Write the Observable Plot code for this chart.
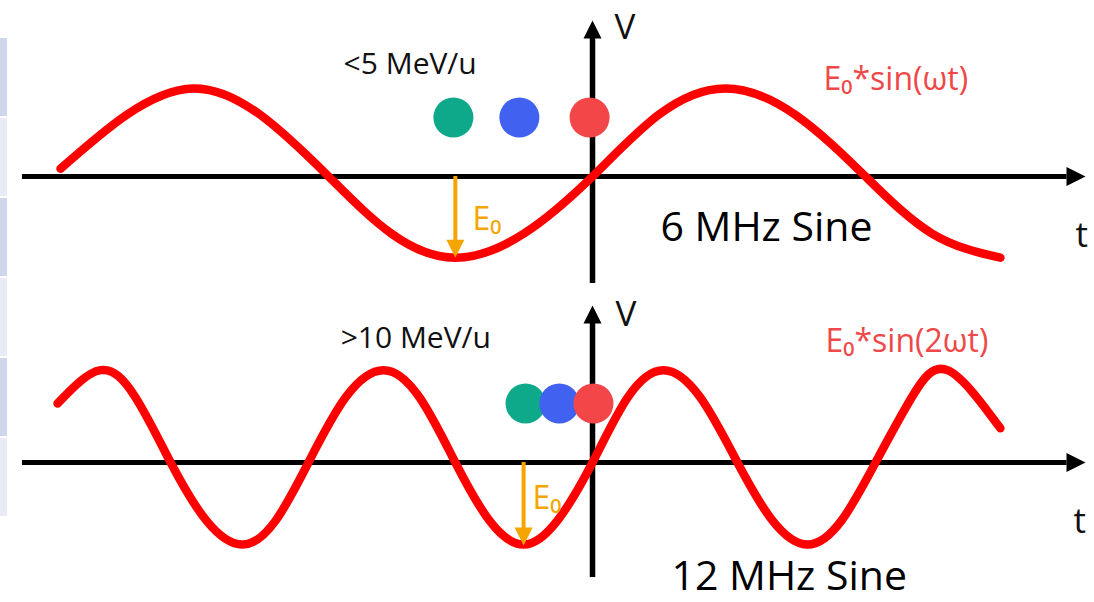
<!DOCTYPE html>
<html><head><meta charset="utf-8">
<script src="https://cdn.jsdelivr.net/npm/d3@7"></script>
<script src="https://cdn.jsdelivr.net/npm/@observablehq/plot@0.6"></script>
<style>
html,body{margin:0;padding:0;background:#fff;}
#chart{position:relative;width:1094px;height:602px;overflow:hidden;}
#chart svg{position:absolute;left:0;}
</style></head><body><div id="chart"></div>
<script>
// time t in ns (t = 0 at the vertical axis), voltage V in units of E0
const topWaveT = [-163.7,-143.4,-122.8,-102.2,-81.2,-61.8,-42.2,-21.2,0,20.3,40.9,62.5,84.0,104.6,125.5];
const topWaveV = [0.09,0.72,1.03,0.72,0,-0.67,-0.95,-0.67,0,0.72,1.03,0.72,0,-0.67,-0.95];
const bottomWaveT = [-164.6,-151.4,-140.6,-129.8,-118.8,-107.7,-97.5,-87.4,-76.0,-64.3,-53.2,-42.2,-31.7,-21.2,-10.8,0,10.8,21.8,33.2,44.6,55.4,66.2,76.6,87.1,98.2,109.2,125.5];
const bottomWaveV = [0.69,1.08,0.76,0,-0.68,-0.96,-0.68,0,0.76,1.08,0.76,0,-0.68,-0.96,-0.68,0,0.76,1.08,0.76,0,-0.68,-0.96,-0.68,0,0.76,1.08,0.40];

const particleNames = ["green","blue","red"];
const particleColors = ["#0ea98a","#4161f1","#f34648"];
const topParticleT = [-42.8,-22.5,-0.9];
const bottomParticleT = [-20.6,-10.2,0.3];
const particleV = 0.69;

const tAxisExtent = [-175.4, 146];
const tArrowTip = 151.7;
const topVAxisExtent = [-1.25, 1.75];
const topVArrowTip = 1.825;
const bottomVAxisExtent = [-1.345, 1.75];
const bottomVArrowTip = 1.836;

const topE0Arrow = {t: -42.2, tip: -0.95};
const bottomE0Arrow = {t: -21.2, tip: -0.97};

const topLabels = {energy: "<5 MeV/u", formula: "E₀*sin(ωt)", freq: "6 MHz Sine", e0: "E₀", vName: "V", tName: "t"};
const bottomLabels = {energy: ">10 MeV/u", formula: "E₀*sin(2ωt)", freq: "12 MHz Sine", e0: "E₀", vName: "V", tName: "t"};
const topLabelAt = {energy: [-76.6,1.20], formula: [71.1,1.01], freq: [20.9,-0.75], e0: [-36.9,-0.63], vName: [6.8,1.61], tName: [148.6,-0.83]};
const bottomLabelAt = {energy: [-77.5,1.345], formula: [71.7,1.29], freq: [24.3,-1.497], e0: [-18.5,-0.54], vName: [7.1,1.60], tName: [148,-0.82]};

const stripeRows = ["r1","r2","r3","r4","r5","r6"];
const stripeColors = ["#cfd5ea","#e8ebf5","#cfd5ea","#e8ebf5","#cfd5ea","#e8ebf5"];

// ---- drawing ----
const W = 1094;
const tDomain = [-592/3.25, (W-592)/3.25];
function tri(dir){
  return {draw(ctx, size){
    const r = Math.sqrt(size/Math.PI);
    ctx.moveTo(0,0);
    if (dir==="right"){ctx.lineTo(-2*r,-r);ctx.lineTo(-2*r,r);}
    else if (dir==="up"){ctx.lineTo(-r,2*r);ctx.lineTo(r,2*r);}
    else {ctx.lineTo(-r,-2*r);ctx.lineTo(r,-2*r);}
    ctx.closePath();
  }};
}
function panel(cfg){
  const wave = cfg.waveT.map((t,i)=>({t, v: cfg.waveV[i]}));
  const parts = cfg.partT.map((t,i)=>({t, v: particleV, c: particleColors[i], name: particleNames[i]}));
  const lab = (k)=>[{t: cfg.at[k][0], v: cfg.at[k][1], s: cfg.labels[k]}];
  const txt = (k, o)=>Plot.text(lab(k), {x:"t", y:"v", text:"s", textAnchor:"start", lineAnchor:"bottom", ...o});
  return Plot.plot({
    width: W, height: cfg.height, margin: 0,
    x: {domain: tDomain, axis: null},
    y: {domain: cfg.vDomain, axis: null},
    style: {fontFamily: "'Open Sans', sans-serif", background: "transparent", overflow: "visible"},
    marks: [
      Plot.ruleY([{v:0, t1: tAxisExtent[0], t2: tAxisExtent[1]}], {y:"v", x1:"t1", x2:"t2", stroke:"#000", strokeWidth:5}),
      Plot.dot([{t: tArrowTip, v: 0}], {x:"t", y:"v", symbol: tri("right"), r: 9.5, fill:"#000", stroke:"none"}),
      Plot.ruleX([{t:0, v1: cfg.vExt[0], v2: cfg.vExt[1]}], {x:"t", y1:"v1", y2:"v2", stroke:"#000", strokeWidth:5.5}),
      Plot.dot([{t: 0, v: cfg.vTip}], {x:"t", y:"v", symbol: tri("up"), r: 9, fill:"#000", stroke:"none"}),
      Plot.line(wave, {x:"t", y:"v", curve:"natural", stroke:"#ff0000", strokeWidth:8.5}),
      Plot.ruleX([{t: cfg.e0.t, v1: 0, v2: cfg.e0.tip + 0.12}], {x:"t", y1:"v1", y2:"v2", stroke:"#f5a500", strokeWidth:4}),
      Plot.dot([{t: cfg.e0.t, v: cfg.e0.tip}], {x:"t", y:"v", symbol: tri("down"), r: 9, fill:"#f5a500", stroke:"none"}),
      Plot.dot(parts, {x:"t", y:"v", r: 20, fill:"c", stroke:"none"}),
      txt("energy", {fontSize: 30, fill:"#111"}),
      txt("formula", {fontSize: 32, fill:"#f04848"}),
      txt("freq", {fontSize: 41, fill:"#000"}),
      txt("e0", {fontSize: 32, fill:"#f5a500"}),
      txt("vName", {fontSize: 35, fill:"#111"}),
      txt("tName", {fontSize: 35, fill:"#111"})
    ]
  });
}
const chartEl = document.getElementById("chart");
const topPanel = panel({height: 290, vDomain: [-(290-176)/85.5, 176/85.5], waveT: topWaveT, waveV: topWaveV,
  partT: topParticleT, vExt: topVAxisExtent, vTip: topVArrowTip, e0: topE0Arrow, labels: topLabels, at: topLabelAt});
topPanel.style.top = "0px";
const bottomPanel = panel({height: 312, vDomain: [-(312-172)/85.5, 172/85.5], waveT: bottomWaveT, waveV: bottomWaveV,
  partT: bottomParticleT, vExt: bottomVAxisExtent, vTip: bottomVArrowTip, e0: bottomE0Arrow, labels: bottomLabels, at: bottomLabelAt});
bottomPanel.style.top = "290px";
chartEl.appendChild(topPanel);
chartEl.appendChild(bottomPanel);

const stripes = Plot.plot({
  width: 7, height: 602, margin: 0,
  x: {domain: [0,1], axis: null},
  y: {domain: stripeRows, range: [35, 518], paddingInner: 0.03, paddingOuter: 0, axis: null},
  marks: [Plot.barX(stripeRows.map((r,i)=>({r, x1:0, x2:1, c: stripeColors[i]})), {y:"r", x1:"x1", x2:"x2", fill:"c", inset: 0})]
});
stripes.style.top = "0px";
chartEl.appendChild(stripes);
</script>
</body></html>
